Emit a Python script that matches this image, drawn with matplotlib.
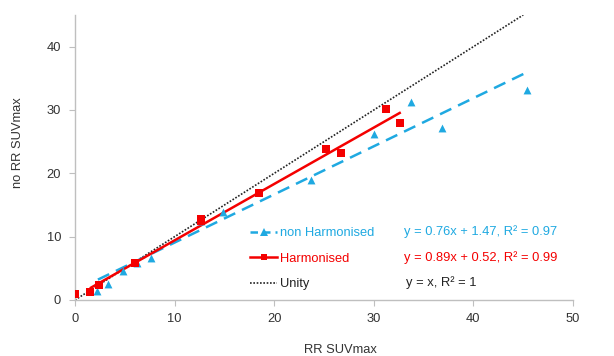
import matplotlib
matplotlib.use("Agg")
import matplotlib.pyplot as plt
from matplotlib.lines import Line2D
import numpy as np

plt.rcParams['font.family'] = ['Liberation Sans', 'DejaVu Sans']

# Data
non_x = [2.2, 3.35, 4.8, 6.2, 7.6, 12.7, 14.9, 23.7, 30.0, 33.7, 36.8, 45.4]
non_y = [1.5, 2.6, 4.6, 5.9, 6.7, 12.4, 13.9, 19.0, 26.2, 31.2, 27.1, 33.2]
harm_x = [0.0, 1.5, 2.4, 6.05, 12.7, 12.7, 18.5, 25.2, 26.7, 31.2, 32.6]
harm_y = [0.9, 1.3, 2.3, 5.9, 12.8, 12.4, 16.9, 23.9, 23.2, 30.1, 27.9]

non_fit = (0.76, 1.47)
harm_fit = (0.89, 0.52)
non_range = (2.3, 45.4)
harm_range = (1.6, 32.6)
unity_range = (0.0, 45.0)

labels = ["non Harmonised", "Harmonised", "Unity"]
equations = ["y = 0.76x + 1.47, R² = 0.97",
             "y = 0.89x + 0.52, R² = 0.99",
             "y = x, R² = 1"]

xticks = [0, 10, 20, 30, 40, 50]
yticks = [0, 10, 20, 30, 40]

BLUE = "#1FA9E1"
RED = "#F40000"
GRAY = "#BFBFBF"
TXT = "#333333"
FS = 9.3

fig = plt.figure(figsize=(6.14, 3.56), dpi=100)
ax = fig.add_axes([75/614, 1-300/356, (573-75)/614, (300-15)/356])

# Unity line
ux = np.array(unity_range)
ax.plot(ux, ux, linestyle=(0, (1, 1)), color="#222222", linewidth=1.2, zorder=2)

# Trendlines
nx = np.array(non_range)
ax.plot(nx, non_fit[0]*nx + non_fit[1], linestyle=(0, (5, 3)), color=BLUE, linewidth=1.8, zorder=2)
hx = np.array(harm_range)
ax.plot(hx, harm_fit[0]*hx + harm_fit[1], linestyle='-', color=RED, linewidth=1.8, zorder=3)

# Points
ax.scatter(non_x, non_y, marker='^', s=32, color=BLUE, zorder=4, linewidths=0)
ax.scatter(harm_x, harm_y, marker='s', s=32, color=RED, zorder=5, linewidths=0)

ax.set_xlim(0, 50)
ax.set_ylim(0, 45)
ax.set_xticks(xticks)
ax.set_yticks(yticks)
for s in ["top", "right"]:
    ax.spines[s].set_visible(False)
for s in ["left", "bottom"]:
    ax.spines[s].set_color(GRAY)
    ax.spines[s].set_linewidth(1.0)
ax.tick_params(direction='out', length=4, color=GRAY, labelsize=FS, labelcolor=TXT)
ax.tick_params(axis='y', pad=6)
ax.tick_params(axis='x', pad=5)

fig.text(340/614, 1-350/356, "RR SUVmax", fontsize=FS, color=TXT, ha='center', va='center')
fig.text(18/614, 1-143/356, "no RR SUVmax", fontsize=FS, color=TXT, ha='center', va='center', rotation=90)

# Legend (manual, to place equations alongside)
handles = [
    Line2D([0], [0], color=BLUE, linestyle=(0, (3, 2)), linewidth=1.8, marker='^', markersize=6, markeredgewidth=0),
    Line2D([0], [0], color=RED, linestyle='-', linewidth=1.8, marker='s', markersize=5, markeredgewidth=0),
    Line2D([0], [0], color="#222222", linestyle=(0, (1, 1)), linewidth=1.2),
]
leg = ax.legend(handles, labels, loc='upper left', bbox_to_anchor=((250-75)/498, (300-227)/285),
                frameon=False, fontsize=FS, handlelength=2.1, handletextpad=0.25,
                labelspacing=1.05, borderpad=0, borderaxespad=0)
for t, c in zip(leg.get_texts(), [BLUE, RED, "#222222"]):
    t.set_color(c)

row_y = [231.7, 257.3, 282.7]
row_x = [404, 404, 406]
for eq, c, yy, xx in zip(equations, [BLUE, RED, "#222222"], row_y, row_x):
    fig.text(xx/614, 1-yy/356, eq, color=c, fontsize=FS, va='center', ha='left')

fig.savefig("out.png", dpi=100)
